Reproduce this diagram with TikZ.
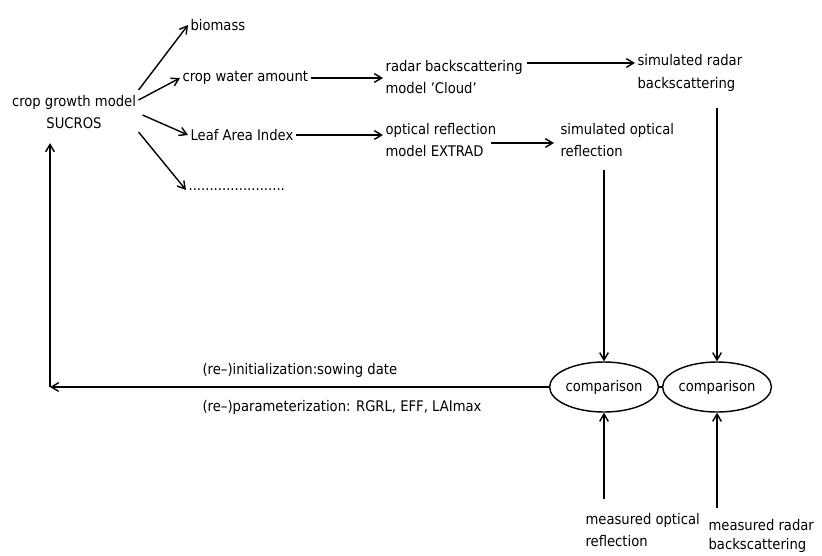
\documentclass[tikz,border=0pt]{standalone}
\usepackage{fontspec}
\setmainfont{DejaVu Sans Condensed}
\usetikzlibrary{arrows.meta, calc, shapes.geometric}

\begin{document}
\begin{tikzpicture}[
    x=0.03cm, y=-0.03cm,
    every node/.style={font=\fontsize{12.5}{19}\selectfont},
    txt/.style={anchor=west, align=left, inner sep=2pt},
    compare/.style={ellipse, draw, line width=1.2pt, minimum width=3.06cm, minimum height=1.5cm, inner sep=0pt},
    arrow/.style={-{Straight Barb[length=2.2mm, width=2.6mm]}, line width=1.2pt},
    plain/.style={line width=1.2pt}
]
    \useasboundingbox (0,0) rectangle (822,555);

    % model and its outputs
    \node[align=center, inner sep=2pt] (model) at (74,112) {crop growth model\\SUCROS};
    \node[txt] (bio) at (188,25) {biomass};
    \node[txt] (water) at (180,78) {crop water amount};
    \node[txt] (lai) at (188,135) {Leaf Area Index};
    \node[txt] (more) at (186,190) {.......................};

    % radiative transfer models
    \node[txt] (radar) at (383,77) {radar backscattering\\model 'Cloud'};
    \node[txt] (optical) at (383,140) {optical reflection\\model EXTRAD};
    \node[txt] (simradar) at (635,73) {simulated radar\\backscattering};
    \node[txt] (simopt) at (558,140) {simulated optical\\reflection};

    % comparison with measurements
    \node[compare] (cmp1) at (604,387) {comparison};
    \node[compare] (cmp2) at (717,387) {comparison};
    \node[txt] (measopt) at (583,530) {measured optical\\reflection};
    \node[txt, font=\fontsize{12.5}{16}\selectfont] (measradar) at (706,536) {measured radar\\backscattering};
    \coordinate (corner) at (50,387);
    \node[txt] (init) at (200,370) {(re--)initialization:sowing date};
    \node[txt] (param) at (200,407) {(re--)parameterization: RGRL, EFF, LAImax};

    \draw[arrow] ($(model.east)+(0,-22)$) -- (bio.west);
    \draw[arrow] ($(model.east)+(0,-12)$) -- (water.west);
    \draw[arrow] ($(model.east)+(4,3)$) -- (lai.west);
    \draw[arrow] ($(model.east)+(0,20)$) -- (more.west);
    \draw[arrow] (water) -- (water -| radar.west);
    \draw[arrow] (lai) -- (lai -| optical.west);
    \draw[arrow] ($(radar.east)+(2,-14)$) -- ($(simradar.west)+(0,-10)$);
    \draw[arrow] ($(optical.east)+(-8,3)$) -- ($(simopt.west)+(-4,3)$);
    \draw[arrow, shorten <=9pt] (cmp1.north |- simopt.south) -- (cmp1.north);
    \draw[arrow, shorten <=12pt] (cmp2.north |- simradar.south) -- (cmp2.north);
    \draw[arrow, shorten <=10pt] (cmp1.south |- measopt.north) -- (cmp1.south);
    \draw[arrow, shorten <=8pt] (cmp2.south |- measradar.north) -- (cmp2.south);
    \draw[plain] (cmp1) -- (cmp2);
    \draw[arrow] (cmp1.west) -- (corner);
    \draw[arrow, shorten >=10pt] (corner) -- (corner |- model.south);
\end{tikzpicture}
\end{document}
